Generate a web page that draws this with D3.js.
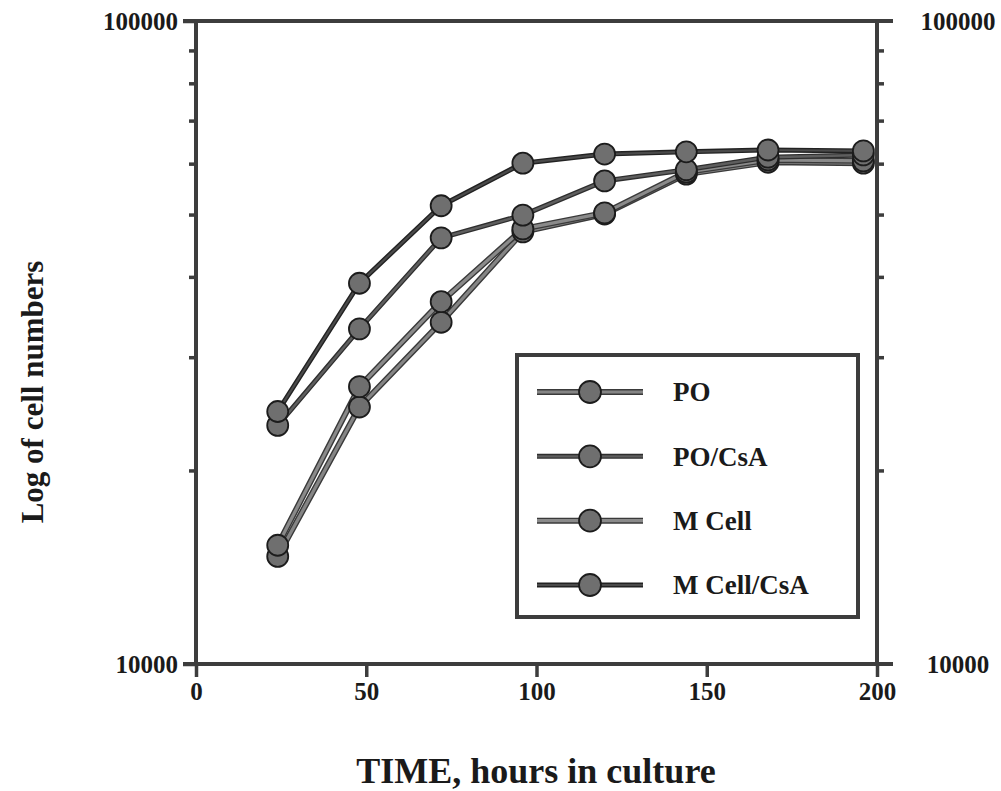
<!DOCTYPE html>
<html>
<head>
<meta charset="utf-8">
<script src="https://cdn.jsdelivr.net/npm/d3@7"></script>
<style>
  body { margin: 0; background: #ffffff; }
  text { font-family: "Liberation Serif", "Times New Roman", serif; font-weight: bold; fill: #1a1a1a; }
</style>
</head>
<body>
<div id="chart"></div>
<script>
// hours in culture
var hours = [24, 48, 72, 96, 120, 144, 168, 196];

// cell numbers
var mCellCsA = [24700, 39100, 51600, 60100, 62100, 62600, 63000, 62800];
var poCsA = [23500, 33200, 46000, 49900, 56400, 58700, 61400, 61900];
var mCell = [15300, 27000, 36600, 47500, 50300, 58200, 60800, 60600];
var po = [14700, 25100, 34000, 47000, 50100, 57800, 60300, 60100];

var seriesNames = ["PO", "PO/CsA", "M Cell", "M Cell/CsA"];
var xTicks = [0, 50, 100, 150, 200];
var yMajor = [10000, 100000];
var yMinor = [20000, 30000, 40000, 50000, 60000, 70000, 80000, 90000];

var w = 1001;
var h = 791;

var plotL = 196, plotR = 877, plotT = 21, plotB = 664;

var svg = d3
  .select("#chart")
  .append("svg")
  .attr("width", w)
  .attr("height", h);

var xScale = d3.scaleLinear().domain([0, 200]).range([plotL, plotR]);
var yScale = d3.scaleLog().domain([10000, 100000]).range([plotB, plotT]);

// line styles per series: under stroke (edge) and inner stroke
var styles = {
  "PO": { edge: "#3a3a3a", inner: "#858585", ew: 6, iw: 3.2 },
  "PO/CsA": { edge: "#2e2e2e", inner: "#5e5e5e", ew: 5, iw: 2.4 },
  "M Cell": { edge: "#3a3a3a", inner: "#8a8a8a", ew: 6, iw: 3.2 },
  "M Cell/CsA": { edge: "#222222", inner: "#4a4a4a", ew: 5, iw: 2.2 }
};

var allSeries = [
  { name: "PO", values: po },
  { name: "M Cell", values: mCell },
  { name: "PO/CsA", values: poCsA },
  { name: "M Cell/CsA", values: mCellCsA }
];

var axisColor = "#3d3d3d";

// frame
function frameLine(x1, y1, x2, y2) {
  svg.append("line")
    .attr("x1", x1).attr("y1", y1)
    .attr("x2", x2).attr("y2", y2)
    .attr("stroke", axisColor)
    .attr("stroke-width", 4);
}
frameLine(183, plotT, 893, plotT);
frameLine(183, plotB, 893, plotB);

// left axis
var yAxisMajor = d3.axisLeft(yScale)
  .tickValues(yMajor)
  .tickSize(13)
  .tickPadding(5)
  .tickFormat(d3.format("d"));
var yAxisMinor = d3.axisLeft(yScale)
  .tickValues(yMinor)
  .tickSize(7)
  .tickFormat("");

svg.append("g")
  .attr("class", "yAxis")
  .attr("transform", "translate(" + plotL + ",0)")
  .call(yAxisMajor);
svg.append("g")
  .attr("class", "yAxis")
  .attr("transform", "translate(" + plotL + ",0)")
  .call(yAxisMinor);

// right axis
var yAxisRight = d3.axisRight(yScale)
  .tickValues(yMinor)
  .tickSize(7)
  .tickFormat("");
svg.append("g")
  .attr("class", "yAxis")
  .attr("transform", "translate(" + plotR + ",0)")
  .call(yAxisRight);

svg.selectAll(".yAxis .tick text")
  .attr("font-size", 25)
  .style("font-family", "'Liberation Serif', serif")
  .style("font-weight", "bold")
  .attr("fill", "#1a1a1a");

svg.append("g")
  .selectAll("text")
  .data(yMajor)
  .enter()
  .append("text")
  .attr("x", 958)
  .attr("y", function(d) { return yScale(d); })
  .attr("dy", "0.35em")
  .attr("text-anchor", "middle")
  .attr("font-size", 25)
  .text(function(d) { return d3.format("d")(d); });

// bottom axis
var xAxis = d3.axisBottom(xScale)
  .tickValues(xTicks)
  .tickSize(13)
  .tickPadding(5);
svg.append("g")
  .attr("class", "xAxis")
  .attr("transform", "translate(0," + plotB + ")")
  .call(xAxis);

svg.selectAll(".xAxis .tick text")
  .attr("font-size", 25)
  .style("font-family", "'Liberation Serif', serif")
  .style("font-weight", "bold")
  .attr("fill", "#1a1a1a");

svg.selectAll(".xAxis line, .yAxis line")
  .attr("stroke", axisColor)
  .attr("stroke-width", 3.5);

// domain paths: plain lines without outer ticks
svg.selectAll(".xAxis path")
  .attr("d", "M183,0H893")
  .attr("stroke", axisColor)
  .attr("stroke-width", 4);
svg.selectAll(".yAxis path")
  .attr("d", "M0," + plotT + "V" + plotB)
  .attr("stroke", axisColor)
  .attr("stroke-width", 4);

// series
var line = d3.line()
  .x(function(d, i) { return xScale(hours[i]); })
  .y(function(d) { return yScale(d); });

allSeries.forEach(function(s) {
  var st = styles[s.name];
  var g = svg.append("g").attr("class", "series");
  g.append("path")
    .attr("d", line(s.values))
    .attr("fill", "none")
    .attr("stroke", st.edge)
    .attr("stroke-width", st.ew)
    .attr("stroke-linejoin", "round");
  g.append("path")
    .attr("d", line(s.values))
    .attr("fill", "none")
    .attr("stroke", st.inner)
    .attr("stroke-width", st.iw)
    .attr("stroke-linejoin", "round");
});

allSeries.forEach(function(s) {
  svg.append("g")
    .selectAll("circle")
    .data(s.values)
    .enter()
    .append("circle")
    .attr("cx", function(d, i) { return xScale(hours[i]); })
    .attr("cy", function(d) { return yScale(d); })
    .attr("r", 10.5)
    .attr("fill", "#6f6f6f")
    .attr("stroke", "#1c1c1c")
    .attr("stroke-width", 1.8);
});

// legend
var legend = svg.append("g").attr("class", "legend");
legend.append("rect")
  .attr("x", 517)
  .attr("y", 355)
  .attr("width", 341)
  .attr("height", 262)
  .attr("fill", "#ffffff")
  .attr("stroke", axisColor)
  .attr("stroke-width", 4);

var legendY = d3.scalePoint().domain(seriesNames).range([392, 585]);

seriesNames.forEach(function(name) {
  var st = styles[name];
  var yy = legendY(name);
  legend.append("line")
    .attr("x1", 537).attr("x2", 643)
    .attr("y1", yy).attr("y2", yy)
    .attr("stroke", st.edge)
    .attr("stroke-width", st.ew);
  legend.append("line")
    .attr("x1", 537).attr("x2", 643)
    .attr("y1", yy).attr("y2", yy)
    .attr("stroke", st.inner)
    .attr("stroke-width", st.iw);
  legend.append("circle")
    .attr("cx", 590)
    .attr("cy", yy)
    .attr("r", 11)
    .attr("fill", "#6f6f6f")
    .attr("stroke", "#1c1c1c")
    .attr("stroke-width", 1.8);
  legend.append("text")
    .attr("x", 673)
    .attr("y", yy)
    .attr("dy", "0.35em")
    .attr("font-size", 27)
    .text(name);
});

// axis titles
svg.append("text")
  .attr("x", 536)
  .attr("y", 783)
  .attr("text-anchor", "middle")
  .attr("font-size", 36)
  .text("TIME, hours in culture");

svg.append("text")
  .attr("transform", "translate(43, 392)rotate(-90)")
  .attr("text-anchor", "middle")
  .attr("font-size", 31)
  .text("Log of cell numbers");
</script>
</body>
</html>
